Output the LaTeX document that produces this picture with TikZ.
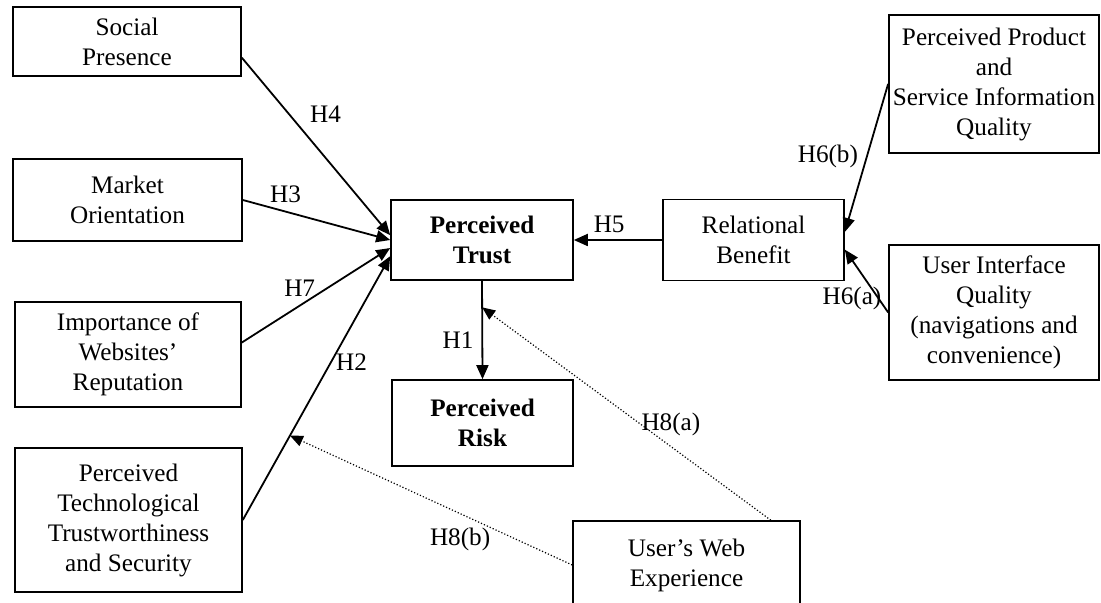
\documentclass[tikz,border=0pt,12pt]{standalone}
\usepackage{fontspec}
\setmainfont{Liberation Serif}
\usetikzlibrary{arrows.meta}

\tikzstyle{factor}=[rectangle, draw=black, thick, align=center, inner sep=2pt, fill=white, font=\fontsize{12.6}{15}\selectfont]
\tikzstyle{keyfactor}=[factor, font=\fontsize{12.6}{15}\selectfont\bfseries]
\tikzstyle{arrow2} = [line width=0.9pt,->,>={Triangle[length=7pt,width=6pt]}]
\tikzstyle{arrow3} = [line width=0.6pt,densely dotted,->,>={Triangle[length=6.5pt,width=5.5pt]}]

\begin{document}
\begin{tikzpicture}[x=0.5pt, y=-0.5pt, font=\fontsize{12.6}{15}\selectfont]
\useasboundingbox (0,0) rectangle (1101,603);
\node (social) [factor, minimum width=114pt, minimum height=34.5pt] at (127,41.5) {Social\\Presence};
\node (market) [factor, minimum width=114.5pt, minimum height=41pt] at (127.5,200) {Market\\Orientation};
\node (imp) [factor, minimum width=113pt, minimum height=52.5pt] at (128,354.5) {Importance of\\Websites'\\Reputation};
\node (tech) [factor, minimum width=113.5pt, minimum height=72pt] at (128.5,520) {Perceived\\Technological\\Trustworthiness\\and Security};
\node (trust) [keyfactor, minimum width=91pt, minimum height=40pt] at (482,240) {Perceived\\Trust};
\node (risk) [keyfactor, minimum width=90.5pt, minimum height=43pt] at (482.5,423) {Perceived\\Risk};
\node (rel) [factor, minimum width=90.5pt, minimum height=40.5pt] at (753.5,240) {Relational\\Benefit};
\node (product) [factor, minimum width=105pt, minimum height=69pt] at (994,84) {Perceived Product\\and\\Service Information\\Quality};
\node (ui) [factor, minimum width=105pt, minimum height=67.5pt] at (994,312.5) {User Interface\\Quality\\(navigations and\\convenience)};
\node (web) [factor, minimum width=113.5pt, minimum height=44pt] at (686.5,565) {User's Web\\Experience};
\draw[arrow2](social.352)--(trust.177) node[pos=0.32, right=6pt] (lh4) {H4};
\draw[arrow2](market.east)--(trust.180) node[pos=0.29, above] (lh3) {H3};
\draw[arrow2](imp.6)--(trust.185) node[pos=0.39, above] (lh7) {H7};
\draw[arrow2](tech.east)--(trust.190) coordinate[pos=0.32] (h2mid) node[pos=0.6, right=-2pt] (lh2) {H2};
\draw[arrow2](rel.west)--(trust.east) node[pos=0.6, above=-1pt] (lh5) {H5};
\draw[arrow2](trust.south)--(risk.north) coordinate[pos=0.27] (h1mid) node[pos=0.6, left] (lh1) {H1};
\draw[arrow2](product.west)--(rel.5) node[pos=0.49, left] (lh6b) {H6(b)};
\draw[arrow2](ui.west)--(rel.354) node[pos=0.23, left=-6pt] (lh6a) {H6(a)};
\draw[arrow3](web.28)--(h1mid) node[pos=0.45, right=-4pt] (lh8a) {H8(a)};
\draw[arrow3](web.west)--(h2mid) node[pos=0.26, left, yshift=-4pt] (lh8b) {H8(b)};
\end{tikzpicture}
\end{document}
